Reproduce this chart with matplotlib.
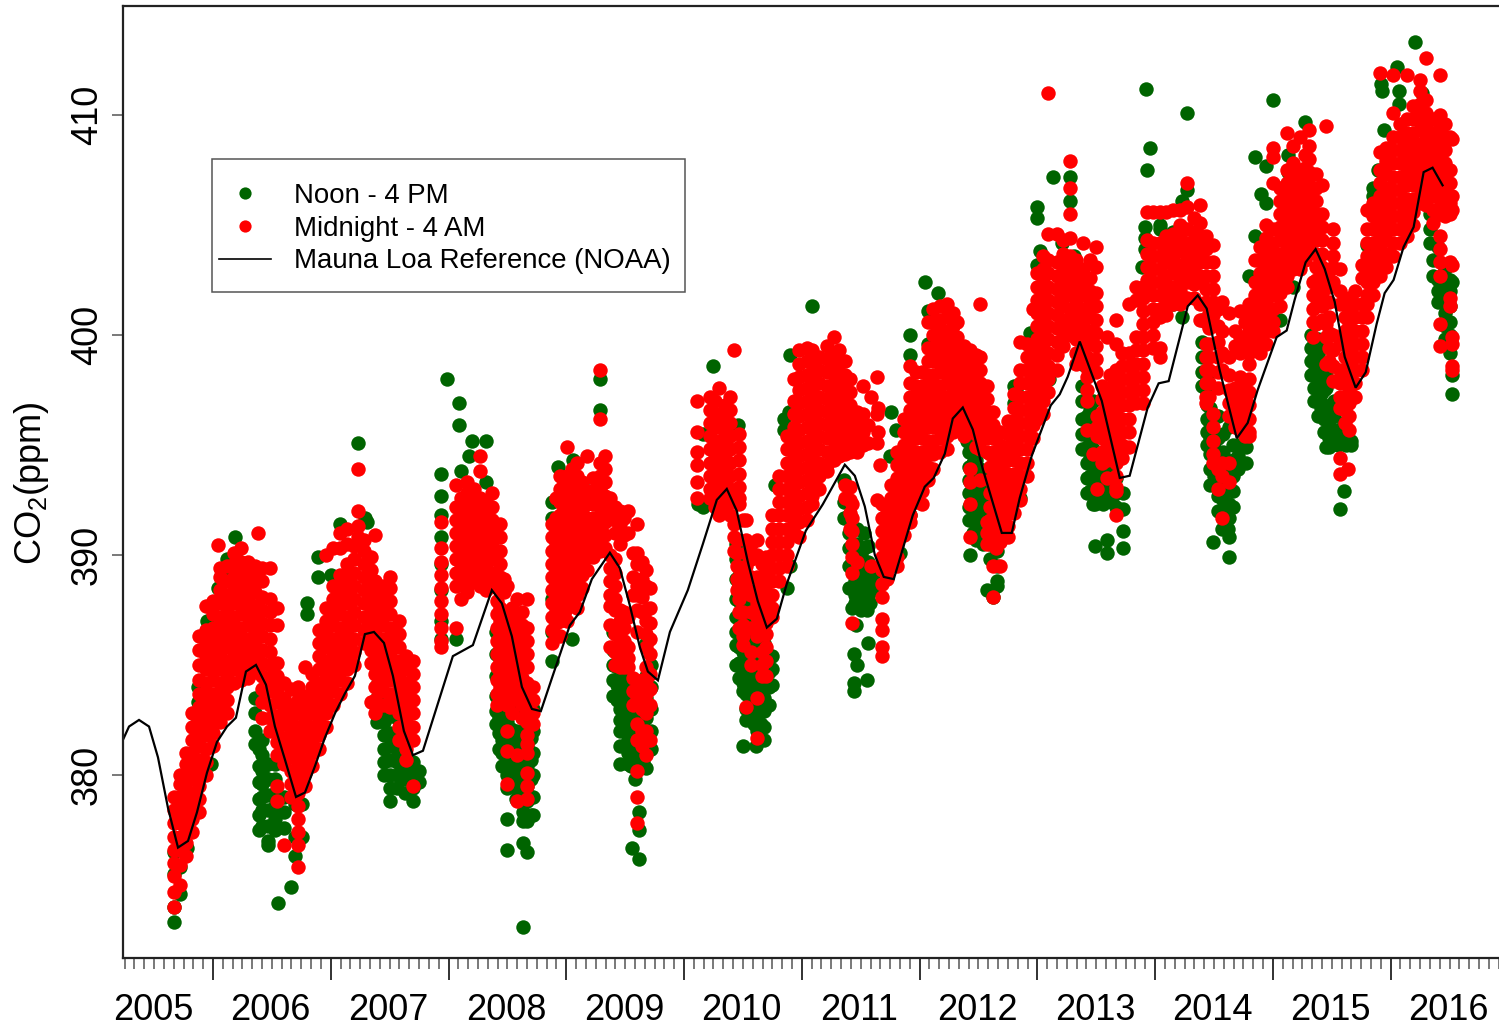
import matplotlib
matplotlib.use('Agg')
import matplotlib.pyplot as plt
from matplotlib.lines import Line2D
from matplotlib.patches import Rectangle

plt.rcParams['font.family'] = ['Liberation Sans', 'DejaVu Sans']
plt.rcParams['mathtext.default'] = 'regular'

# Mauna Loa reference
noaa_x = [2005.236, 2005.287, 2005.372, 2005.457, 2005.533, 2005.618, 2005.703, 2005.788, 2005.864, 2005.949,
          2006.034, 2006.119, 2006.195, 2006.28, 2006.365, 2006.45, 2006.526, 2006.611, 2006.705, 2006.781,
          2006.866, 2006.951, 2007.036, 2007.12, 2007.205, 2007.29, 2007.367, 2007.452, 2007.528, 2007.621,
          2007.698, 2007.783, 2008.037, 2008.207, 2008.368, 2008.453, 2008.538, 2008.623, 2008.708, 2008.784,
          2008.878, 2009.03, 2009.115, 2009.217, 2009.37, 2009.455, 2009.54, 2009.625, 2009.693, 2009.778,
          2009.88, 2010.032, 2010.16, 2010.278, 2010.363, 2010.448, 2010.541, 2010.626, 2010.703, 2010.788,
          2010.873, 2011.034, 2011.178, 2011.365, 2011.45, 2011.535, 2011.62, 2011.696, 2011.781, 2011.942,
          2012.044, 2012.12, 2012.214, 2012.282, 2012.367, 2012.452, 2012.537, 2012.698, 2012.783, 2012.851,
          2012.952, 2013.114, 2013.19, 2013.258, 2013.36, 2013.547, 2013.70, 2013.784, 2013.937, 2014.03,
          2014.115, 2014.277, 2014.362, 2014.438, 2014.548, 2014.693, 2014.786, 2014.871, 2015.032, 2015.117,
          2015.185, 2015.278, 2015.363, 2015.44, 2015.525, 2015.61, 2015.703, 2015.788, 2015.881, 2015.949,
          2016.025, 2016.11, 2016.195, 2016.28, 2016.356, 2016.441]
noaa_y = [381.6, 382.2, 382.5, 382.2, 380.8, 378.5, 376.7, 377.0, 378.3, 380.1,
          381.5, 382.2, 382.6, 384.7, 385.0, 384.1, 382.2, 380.7, 379.0, 379.2,
          380.4, 381.7, 382.8, 383.7, 384.5, 386.4, 386.5, 386.0, 384.5, 382.0,
          380.9, 381.1, 385.4, 385.9, 388.4, 387.8, 386.3, 384.0, 383.0, 382.9,
          384.4, 386.8, 387.4, 388.9, 390.1, 389.4, 387.7, 385.8, 384.7, 384.3,
          386.5, 388.4, 390.5, 392.5, 393.0, 392.0, 389.7, 387.9, 386.7, 387.1,
          388.7, 391.1, 392.3, 394.1, 393.6, 392.2, 390.0, 389.0, 388.9, 391.8,
          393.1, 393.5, 394.6, 396.2, 396.7, 395.7, 393.9, 391.0, 391.0, 392.6,
          394.5, 396.8, 397.3, 398.1, 399.7, 397.0, 393.5, 393.6, 396.7, 397.8,
          397.9, 401.3, 401.8, 401.2, 398.4, 395.3, 396.0, 397.5, 399.9, 400.2,
          401.6, 403.3, 403.9, 403.0, 401.5, 399.0, 397.6, 398.3, 400.5, 401.9,
          402.5, 404.0, 404.9, 407.4, 407.6, 406.8]

# Noon - 4 PM, one (date, readings) entry per column of dots
noon_2005_06 = [
    (2005.67, [373.3, 374.0, 375.5, 376.5]), (2005.72, [374.6, 375.8]), (2005.78, [376.7, 378.0]),
    (2005.87, [381.5, 382.5, 383.3, 384.0]), (2005.95, [385.0, 385.8, 386.4, 387.0]), (2005.98, [380.5]),
    (2006.04, [388.5]), (2006.12, [388.9, 389.8]), (2006.19, [390.8, 390.0, 389.0]),
    (2006.36, [383.5, 382.8, 382.0, 381.4]), (2006.42, [381.6, 380.9, 380.2, 379.6, 379.0, 378.4, 377.7]),
    (2006.47, [380.5, 379.8, 379.1, 378.4, 377.7, 377.0, 376.8]), (2006.53, [380.5, 379.8, 379.2, 378.6, 378.0, 377.5]),
    (2006.55, [374.2]), (2006.60, [379.0, 378.3, 377.6]), (2006.66, [374.9]), (2006.70, [378.7, 377.2, 376.3]),
    (2006.755, [378.7, 377.2]), (2006.39, [381.2, 380.4, 379.7, 378.9, 378.2, 377.5]),
]
noon_2007 = [
    (2006.80, [387.8, 387.3]), (2006.89, [389.9, 389.0]), (2007.00, [389.1]), (2007.08, [391.4]),
    (2007.23, [395.1]), (2007.29, [391.7]), (2007.31, [391.5]),
    (2007.39, [384.8, 384.1, 383.5, 382.9, 382.4]), (2007.45, [383.0, 382.4, 381.8, 381.2, 380.6, 380.0]),
    (2007.50, [382.7, 381.9, 381.3, 380.7, 380.0, 379.4, 378.8]), (2007.56, [382.6, 381.9, 381.2, 380.6, 380.0, 379.4]),
    (2007.63, [381.0, 380.4, 379.8, 379.2]), (2007.70, [380.6, 380.0, 379.4, 378.8]), (2007.75, [380.2, 379.7]),
]
noon_2008 = [
    (2007.94, [393.7, 392.7, 391.8, 390.8, 389.6, 388.4, 387.0, 386.2]), (2007.985, [398.0]),
    (2008.06, [386.2]), (2008.09, [396.9, 395.9]), (2008.11, [393.8]), (2008.17, [394.5]), (2008.20, [395.2]),
    (2008.32, [395.2, 393.3]), (2008.40, [386.5, 385.5, 384.5, 383.6, 382.9, 382.3]),
    (2008.45, [385.0, 384.0, 383.0, 382.3, 381.6, 381.0, 380.4]),
    (2008.50, [382.4, 381.8, 381.2, 380.6, 380.0, 379.4, 378.0, 376.6]),
    (2008.57, [383.0, 382.0, 381.3, 380.7, 380.1, 379.5, 378.9]),
    (2008.63, [383.0, 382.0, 381.5, 380.9, 380.3, 379.7, 379.0, 378.3, 377.9, 376.9, 373.1]),
    (2008.67, [382.5, 381.3, 380.4, 379.5, 378.8, 377.9, 376.5]), (2008.72, [383.0, 382.0, 381.0, 380.0, 379.0, 378.2]),
    (2008.43, [383.4, 382.6, 381.9, 381.2]), (2008.53, [382.1, 381.5, 380.9, 380.2, 379.5]),
    (2008.60, [381.8, 381.1, 380.5, 379.9, 379.2]), (2008.70, [381.7, 380.7, 379.8, 379.0, 378.2]),
]
noon_2009 = [
    (2008.88, [392.4, 391.7, 388.0, 386.5, 385.2]), (2008.93, [394.0]), (2009.01, [393.3]), (2009.05, [386.2]),
    (2009.06, [394.3]), (2009.15, [393.0, 392.8]), (2009.285, [398.0, 396.6]),
    (2009.40, [386.5, 385.7, 385.0, 384.3, 383.6]), (2009.46, [385.0, 384.3, 383.6, 383.0, 382.5, 382.0, 381.3, 380.5]),
    (2009.52, [384.5, 384.0, 383.4, 382.8, 382.2, 381.6, 381.0, 380.5]), (2009.56, [376.7]),
    (2009.58, [383.5, 382.8, 382.0, 381.2, 380.4, 379.8]), (2009.62, [382.7, 381.5, 380.7, 378.3, 377.5, 376.2]),
    (2009.68, [386.0, 384.5, 383.5, 382.6, 381.7, 381.0, 380.3]),
    (2009.43, [385.6, 384.9, 384.1, 383.4]), (2009.49, [384.3, 383.5, 382.8, 382.1, 381.3]),
    (2009.55, [384.0, 383.3, 382.5, 381.8, 381.0, 380.4]), (2009.65, [384.0, 383.1, 382.2, 381.3, 380.6]),
    (2009.72, [385.0, 384.0, 383.0, 382.0, 381.2]),
]
noon_2010 = [
    (2010.12, [392.3]), (2010.16, [395.5, 392.2]), (2010.25, [398.6]), (2010.46, [395.9]),
    (2010.44, [390.5, 389.8, 388.9, 388.0, 387.2, 386.5, 385.9, 385.0]),
    (2010.50, [389.0, 388.3, 387.6, 387.0, 386.4, 385.6, 384.9, 384.2, 383.8, 381.3]),
    (2010.56, [388.0, 387.4, 386.8, 386.2, 385.4, 384.7, 384.1, 383.5, 382.9]),
    (2010.61, [381.3]), (2010.62, [385.0, 384.4, 383.8, 383.2, 382.6, 382.0]),
    (2010.68, [386.0, 385.0, 384.2, 383.5, 382.9, 382.2, 381.6]), (2010.72, [384.7, 384.0, 383.2]),
    (2010.47, [389.4, 388.6, 387.9, 387.2, 386.5, 385.8, 385.1, 384.4]),
    (2010.53, [387.2, 386.5, 385.8, 385.1, 384.4, 383.7, 383.0, 382.5]),
    (2010.59, [386.2, 385.5, 384.9, 384.2, 383.5, 382.8, 382.3]),
    (2010.65, [385.8, 385.1, 384.4, 383.7, 383.0, 382.3]),
    (2010.75, [385.4, 384.8, 384.1]),
    (2010.77, [393.2]), (2010.85, [396.2, 395.7]), (2010.87, [388.5]), (2010.89, [396.5]),
    (2010.90, [399.1, 389.5]), (2011.085, [401.3]),
]
noon_2011 = [
    (2011.36, [393.4, 392.4, 391.7]), (2011.40, [391.8, 391.0, 390.3, 389.5, 388.5]),
    (2011.43, [387.6, 390.4, 389.7]), (2011.44, [385.5, 384.2, 383.8]), (2011.45, [388.8, 388.2, 387.8]),
    (2011.46, [386.8]), (2011.47, [385.0, 391.2, 390.5, 389.8, 389.1]), (2011.50, [390.0, 389.2, 388.5, 388.0, 387.5]),
    (2011.53, [391.0, 390.3, 389.6, 388.9, 388.2]),
    (2011.55, [388.8, 388.1, 387.5, 384.3]), (2011.56, [386.0, 390.4, 389.7, 389.0]),
    (2011.58, [388.3, 387.8]), (2011.61, [389.2, 388.6]),
    (2011.75, [394.5]), (2011.76, [396.5]), (2011.80, [395.7]), (2011.83, [390.1]),
    (2011.92, [400.0, 399.1, 391.8]), (2012.05, [402.4]), (2012.07, [399.6, 401.1]), (2012.16, [401.9]),
]
noon_2012 = [
    (2012.40, [396.0, 395.2]), (2012.42, [394.7, 394.0, 393.4, 392.8, 392.2, 391.6]), (2012.43, [390.0]),
    (2012.45, [394.2, 393.5, 392.9, 392.2, 391.6, 391.0]),
    (2012.48, [394.3, 393.7, 393.0, 392.4, 391.8, 391.2, 390.7]), (2012.51, [393.9, 393.3, 392.6, 392.0, 391.4, 390.8]),
    (2012.54, [393.5, 392.9, 392.3, 391.7, 391.1, 390.5]),
    (2012.57, [388.4]), (2012.60, [392.3, 391.7, 391.1, 390.5, 389.8]), (2012.62, [388.1]),
    (2012.66, [392.0, 391.0, 390.2, 389.5, 388.8, 388.6]), (2012.80, [397.7, 396.9]), (2012.85, [392.6]),
    (2012.82, [397.5]), (2012.94, [400.1]), (2013.03, [400.1]), (2013.00, [403.2, 405.8, 405.3]), (2013.02, [403.8]),
    (2013.10, [398.0]), (2013.13, [407.2]), (2013.21, [404.2]), (2013.28, [407.2, 406.1]), (2013.31, [403.6]),
]
noon_2013 = [
    (2013.38, [398.7, 397.7, 397.0, 396.2, 395.5, 394.8]), (2013.42, [396.3, 395.6, 394.9, 394.2, 393.5, 392.8]),
    (2013.45, [396.6, 395.9, 395.1, 394.4, 393.6, 392.9]),
    (2013.47, [397.0, 395.4, 394.8, 394.2, 393.5, 392.9, 392.3]), (2013.49, [392.3, 390.4]),
    (2013.52, [394.6, 393.8, 393.1, 392.4]), (2013.56, [392.3, 393.6, 393.0]), (2013.59, [393.9, 393.2, 392.5, 390.7, 390.1]),
    (2013.63, [393.6, 393.0, 392.4]),
    (2013.67, [393.5, 392.8, 392.2]), (2013.73, [392.8, 392.1, 391.1, 390.3]),
    (2013.89, [403.1]), (2013.91, [404.9, 404.4, 403.9]), (2013.92, [411.2]), (2013.93, [407.5]), (2013.96, [408.5]),
    (2014.04, [405.0, 404.8]), (2014.15, [404.7, 401.4]), (2014.23, [406.1, 400.8]), (2014.27, [406.6, 410.1]),
]
noon_2014 = [
    (2014.40, [400.7, 399.7, 399.0, 398.3, 397.7]), (2014.44, [398.0, 397.4, 396.8, 396.2, 395.6, 395.0]),
    (2014.47, [396.7, 396.0, 395.3, 394.6, 393.9, 393.2]),
    (2014.49, [390.6]), (2014.50, [395.5, 394.9, 394.3, 393.6]), (2014.53, [396.3, 395.3, 393.4, 392.7, 392.0]),
    (2014.57, [391.2]), (2014.58, [395.5, 394.7, 394.0, 393.2, 392.5, 391.8]),
    (2014.62, [391.2]), (2014.63, [395.8, 393.6, 393.0, 392.3, 391.7, 390.8, 389.9]),
    (2014.66, [395.0, 394.3, 393.6, 392.9, 392.2]),
    (2014.70, [396.0, 395.0, 394.5, 393.9]), (2014.77, [399.3, 395.5, 394.9, 394.2]), (2014.80, [402.7]), (2014.85, [404.5, 408.1]),
    (2014.90, [406.4]), (2014.94, [406.0, 407.7]), (2014.998, [410.7]), (2015.06, [400.7]),
    (2015.13, [407.4, 408.2]), (2015.17, [402.2]), (2015.27, [409.7]),
]
noon_2015 = [
    (2015.32, [400.0, 399.4, 398.8, 398.2]), (2015.38, [399.8, 399.1, 398.4, 397.7, 396.3]),
    (2015.35, [399.6, 399.0, 398.3, 397.6, 397.0]), (2015.41, [399.4, 398.7, 398.0, 397.3, 396.7]),
    (2015.43, [397.5, 396.8, 396.2, 395.6]), (2015.45, [394.9, 398.3, 397.6]), (2015.48, [396.5, 395.9, 395.3, 394.9]),
    (2015.52, [397.0, 396.3, 395.7, 395.1]),
    (2015.55, [395.7, 395.0, 395.1]), (2015.57, [392.1]), (2015.60, [392.9, 396.0]), (2015.62, [395.5, 395.0]),
    (2015.66, [395.2, 395.0]),
    (2015.80, [404.1]), (2015.85, [406.7, 406.3]), (2015.89, [407.5]), (2015.93, [411.1]), (2015.92, [411.4]),
    (2015.945, [409.3]), (2016.05, [412.2]), (2016.07, [411.1, 410.5]), (2016.21, [413.3]), (2016.27, [411.0]),
    (2016.33, [405.5, 404.8, 404.2]), (2016.36, [403.4, 402.7]), (2016.40, [404.0, 402.5, 402.0, 401.5]),
    (2016.46, [403.0, 402.4, 401.7, 401.0, 400.4, 399.8]), (2016.50, [402.5, 402.0, 401.3, 400.6, 400.0, 399.2]),
    (2016.52, [402.4, 398.2, 397.3]),
]

# Midnight - 4 AM, same layout
midnight_2005_06 = [
    (2005.67, [374.0, 374.7, 375.4, 376.0, 376.6, 377.2, 377.8, 378.4, 379.0]),
    (2005.72, [375.0, 375.9, 376.6, 377.2, 377.8, 378.4, 379.0, 379.6, 380.0]),
    (2005.77, [376.3, 376.9, 377.5, 378.1, 378.7, 379.3, 379.9, 380.5, 381.0]),
    (2005.82, [377.4, 378.0, 378.6, 379.2, 379.8, 380.4, 381.0, 381.6, 382.2, 382.8]),
    (2005.88, [378.3, 378.9, 379.5, 380.1, 380.7, 381.3, 381.9, 382.5, 383.1, 383.7, 384.3, 385.0, 385.7, 386.3]),
    (2005.94, [380.0, 380.6, 381.2, 381.8, 382.4, 383.0, 383.6, 384.2, 384.8, 385.4, 386.0, 386.6, 387.7]),
    (2006.00, [381.3, 381.9, 382.5, 383.1, 383.7, 384.3, 384.9, 385.5, 386.1, 386.7, 387.3, 387.9]),
    (2006.04, [390.45]),
    (2006.06, [382.4, 383.0, 383.6, 384.2, 384.8, 385.4, 386.0, 386.6, 387.2, 387.8, 388.4, 389.0, 389.4]),
    (2006.12, [382.8, 383.4, 384.0, 384.6, 385.2, 385.8, 386.4, 387.0, 387.6, 388.2, 388.8, 389.5]),
    (2006.18, [384.2, 384.8, 385.4, 386.0, 386.6, 387.2, 387.8, 388.4, 389.0, 389.6, 390.1]),
    (2006.24, [384.3, 384.9, 385.5, 386.1, 386.7, 387.3, 387.9, 388.5, 389.1, 389.7, 390.3]),
    (2006.30, [384.4, 385.0, 385.6, 386.2, 386.8, 387.4, 388.0, 388.6, 389.2, 389.7]),
    (2006.36, [384.7, 385.3, 385.9, 386.5, 387.1, 387.7, 388.3, 388.9, 389.5]),
    (2006.38, [391.0]),
    (2006.42, [382.6, 383.3, 383.9, 384.5, 385.1, 385.7, 386.3, 386.9, 387.5, 388.1, 388.8, 389.4]),
    (2006.48, [382.0, 382.6, 383.2, 383.8, 384.4, 385.0, 385.6, 386.2, 386.8, 387.4, 388.0, 389.4]),
    (2006.54, [380.9, 381.5, 382.1, 382.7, 383.3, 383.9, 384.5, 385.1, 387.6, 386.8, 379.5, 378.8]),
    (2006.60, [380.5, 381.1, 381.7, 382.3, 382.9, 383.5, 384.2, 376.8]),
    (2006.66, [379.0, 379.6, 380.2, 380.8, 381.4, 382.0, 382.6, 383.2, 383.9]),
    (2006.72, [377.4, 378.0, 378.6, 379.2, 379.8, 380.4, 381.0, 381.6, 382.2, 382.8, 383.4, 384.0, 375.8, 376.8]),
    (2006.78, [379.5, 380.1, 380.7, 381.3, 381.9, 382.5, 383.1, 383.6, 384.9]),
]
midnight_2007 = [
    (2006.84, [380.4, 381.0, 381.6, 382.2, 382.8, 383.4, 384.0, 384.6]),
    (2006.90, [381.2, 381.8, 382.4, 383.0, 383.6, 384.2, 384.8, 385.4, 386.0, 386.6]),
    (2006.96, [382.2, 382.8, 383.4, 384.0, 384.6, 385.2, 385.8, 386.4, 387.0, 387.6, 390.0]),
    (2007.02, [383.2, 383.8, 384.4, 385.0, 385.6, 386.2, 386.8, 387.4, 388.0, 388.6, 390.3]),
    (2007.08, [383.7, 384.3, 384.9, 385.5, 386.1, 386.7, 387.3, 387.9, 388.5, 389.1, 390.3, 391.0]),
    (2007.14, [384.2, 384.8, 385.4, 386.0, 386.6, 387.2, 387.8, 388.4, 389.0, 389.6, 390.5, 391.2]),
    (2007.20, [385.0, 385.6, 386.2, 386.8, 387.4, 388.0, 388.6, 389.2, 389.8, 390.4]),
    (2007.23, [393.9, 392.0, 391.3, 390.8]),
    (2007.28, [386.0, 386.6, 387.2, 387.8, 388.4, 389.0, 389.6, 390.2, 390.7]),
    (2007.34, [383.3, 385.1, 385.7, 386.3, 386.9, 387.5, 388.1, 388.7, 389.3, 389.9]),
    (2007.38, [382.8, 383.4, 384.0, 384.6, 385.2, 385.8, 386.4, 387.0, 387.6, 388.2, 388.8, 390.9]),
    (2007.44, [383.2, 383.8, 384.4, 385.0, 385.6, 386.2, 386.8, 387.4, 388.0, 388.6]),
    (2007.50, [383.1, 383.7, 384.3, 384.9, 385.5, 386.1, 386.7, 387.3, 387.9, 388.5, 389.0]),
    (2007.58, [381.6, 382.2, 382.8, 383.4, 384.0, 384.6, 385.2, 385.8, 386.4, 387.0]),
    (2007.64, [381.2, 381.8, 382.4, 383.0, 383.6, 384.2, 384.8, 385.4, 380.7]),
    (2007.70, [381.6, 382.2, 382.8, 383.4, 384.0, 384.6, 385.2, 379.5]),
]
midnight_2008 = [
    (2007.94, [391.5, 390.3, 389.7, 389.1, 388.5, 387.9, 387.3, 386.7, 386.1, 385.8]),
    (2008.06, [393.2, 392.2, 391.6, 391.0, 390.4, 389.8, 389.2, 388.6, 386.7]),
    (2008.11, [392.6, 392.0, 391.4, 390.8, 390.2, 389.6, 389.0, 388.0]),
    (2008.16, [393.3, 392.8, 392.2, 391.6, 391.0, 390.4, 389.8, 389.2, 388.6, 388.3]),
    (2008.22, [393.0, 392.4, 391.8, 391.2, 390.6, 390.0, 389.4, 388.8]),
    (2008.27, [394.5, 393.8, 392.6, 392.0, 391.4, 390.8, 390.2, 389.6, 389.0, 388.6]),
    (2008.32, [392.4, 391.8, 391.2, 390.6, 390.0, 389.4, 388.8, 388.4]),
    (2008.37, [392.8, 392.2, 391.6, 391.0, 390.4, 389.8, 389.2, 388.6]),
    (2008.41, [387.9, 387.3, 386.7, 386.1, 385.5, 384.9, 384.3, 383.7, 383.2]),
    (2008.44, [391.4, 390.8, 390.2, 389.6, 389.0, 388.4, 387.6, 387.0, 386.4, 385.8, 385.2, 384.6, 384.0]),
    (2008.47, [388.9, 388.3, 387.4, 386.6, 386.0, 385.4, 384.8, 384.2, 383.6]),
    (2008.50, [388.6, 386.8, 386.2, 385.6, 385.0, 384.4, 383.8, 383.2, 382.0, 381.1, 379.6]),
    (2008.54, [387.6, 387.0, 386.4, 385.8, 385.2, 384.6, 384.0, 383.4, 382.8]),
    (2008.58, [388.0, 387.2, 386.6, 386.0, 385.4, 384.8, 384.2, 383.5, 380.9, 378.8]),
    (2008.62, [387.4, 386.8, 386.2, 385.6, 385.0, 384.4, 383.8, 383.2, 382.6]),
    (2008.67, [388.0, 386.7, 386.1, 385.5, 384.9, 384.2, 383.6, 383.0, 382.4, 381.8, 381.4, 381.0, 380.1, 379.5, 378.9]),
    (2008.72, [384.0, 383.4, 382.8, 382.3]),
]
midnight_2009 = [
    (2008.88, [391.4, 390.8, 390.2, 389.6, 389.0, 388.4, 387.8, 387.2, 386.6, 386.0]),
    (2008.915, [392.6, 391.7, 391.1, 390.5, 389.9, 389.3, 388.7, 388.1, 387.5, 386.9]),
    (2008.95, [393.6, 393.0, 392.4, 391.8, 391.2, 390.6, 390.0, 389.4, 388.8, 388.2, 387.6, 387.0, 386.3]),
    (2008.98, [393.3, 392.7, 392.1, 391.5, 390.9, 390.3, 389.7, 389.1, 388.5, 387.9, 387.3]),
    (2009.01, [394.9, 393.6, 393.0, 392.4, 391.8, 391.2, 390.6, 390.0, 389.4, 388.8, 388.2, 387.6, 387.0]),
    (2009.05, [393.9, 393.3, 392.7, 392.1, 391.5, 390.9, 390.3, 389.7, 389.1, 388.5, 387.9]),
    (2009.09, [394.2, 393.6, 393.0, 392.4, 391.8, 391.2, 390.6, 390.0, 389.4, 388.8, 388.2, 387.6]),
    (2009.13, [393.3, 392.7, 392.1, 391.5, 390.9, 390.3, 389.7, 389.1, 388.5]),
    (2009.175, [394.5, 392.9, 392.3, 391.7, 391.1, 390.5, 389.9, 389.3]),
    (2009.23, [393.5, 392.9, 392.3, 391.7, 391.1, 390.5, 389.9]),
    (2009.285, [398.4, 396.2, 394.2, 393.6, 393.0, 392.4, 391.8, 391.2, 390.6, 390.2]),
    (2009.33, [394.5, 393.9, 393.3, 392.7, 392.1, 391.5, 390.9, 390.3]),
    (2009.37, [392.6, 392.0, 390.0, 389.4, 388.8, 388.2, 387.7, 386.8, 385.8]),
    (2009.41, [392.2, 391.6, 391.0, 389.8, 389.2, 388.6, 388.0, 387.5, 386.4, 385.6, 385.0]),
    (2009.455, [392.0, 391.4, 390.5, 387.5, 387.0, 386.5, 386.0, 385.4, 384.9]),
    (2009.49, [391.7, 390.9, 387.4, 386.7, 386.1, 385.5, 384.9]),
    (2009.52, [392.0, 391.0, 387.2, 385.8, 385.3, 384.9]),
    (2009.57, [390.1, 389.0, 388.2, 384.4, 383.8, 383.2]),
    (2009.60, [391.4, 390.1, 389.6, 388.6, 388.2, 387.5, 386.5, 384.0, 383.5, 382.3, 381.6, 380.2, 379.0, 377.8]),
    (2009.64, [389.7, 388.9, 388.1, 387.4, 384.3, 383.6, 383.0, 382.0, 381.3]),
    (2009.68, [389.3, 388.6, 387.5, 387.0, 386.4, 385.8, 384.9, 384.3, 383.7, 383.1, 382.8, 382.0, 380.9]),
    (2009.71, [388.5, 387.6, 386.9, 386.2, 385.5, 384.6, 383.9, 383.2, 381.6]),
]
midnight_2010 = [
    (2010.11, [397.0, 395.6, 394.7, 394.1, 393.3, 392.6]),
    (2010.22, [397.2, 396.6, 396.0, 395.4, 394.8, 394.2, 393.6, 393.0, 392.6]),
    (2010.26, [397.0, 396.4, 395.8, 395.2, 394.6, 394.0, 393.4, 392.8, 392.2]),
    (2010.30, [397.6, 396.4, 395.8, 395.2, 394.6, 394.0, 393.4, 392.8, 392.2, 391.8]),
    (2010.35, [396.8, 396.2, 395.6, 395.0, 394.4, 393.8, 393.2, 392.6, 392.0]),
    (2010.39, [397.2, 396.6, 396.0, 395.4, 394.8, 394.2, 393.6, 393.0, 392.4, 391.8]),
    (2010.42, [399.3, 391.4, 390.8, 390.2]),
    (2010.47, [395.5, 394.9, 394.3, 393.7, 393.1, 392.6, 392.3, 389.4, 388.7, 388.0, 387.4, 386.7]),
    (2010.45, [390.7, 390.1, 389.5, 388.9, 388.4]),
    (2010.50, [391.6, 387.4, 386.8, 386.3, 385.9]),
    (2010.53, [391.6, 390.7, 390.1, 389.5, 388.9, 388.5, 383.1]),
    (2010.57, [390.5, 389.8, 389.0, 388.2, 387.4, 386.7, 385.6, 385.0]),
    (2010.62, [390.7, 390.0, 389.0, 388.4, 387.8, 387.2, 386.6, 386.3, 383.5, 381.7]),
    (2010.66, [389.6, 389.0, 388.4, 387.7, 387.0, 386.4, 385.6, 385.0, 384.5]),
    (2010.70, [389.9, 389.3, 388.7, 388.1, 387.5, 386.9, 386.4, 385.8, 385.2, 384.5]),
    (2010.75, [391.8, 391.2, 390.6, 390.0, 389.4, 388.8, 388.2, 387.6, 387.2]),
    (2010.81, [393.6, 393.0, 392.4, 391.8, 391.2, 390.6, 390.0, 389.4, 388.8]),
    (2010.87, [395.4, 394.8, 394.2, 393.6, 393.0, 392.4, 391.8, 391.2, 390.6, 390.0, 389.5]),
    (2010.93, [398.0, 397.0, 396.4, 395.8, 395.2, 394.6, 394.0, 393.4, 392.8, 392.2, 391.6, 391.0]),
    (2010.98, [399.3, 398.7, 398.1, 397.5, 396.9, 396.3, 395.7, 395.1, 394.5, 393.9, 393.3, 392.7, 392.1, 391.5, 390.8]),
    (2011.04, [399.4, 398.8, 398.2, 397.6, 397.0, 396.4, 395.8, 395.2, 394.6, 394.0, 393.4, 392.8, 392.2, 391.6]),
    (2011.09, [399.3, 398.7, 398.1, 397.5, 396.9, 396.3, 395.7, 395.1, 394.5, 393.9, 393.3, 392.7, 392.3]),
    (2011.15, [399.0, 398.4, 397.8, 397.2, 396.6, 396.0, 395.4, 394.8, 394.2, 393.6, 393.0]),
    (2011.21, [399.5, 398.9, 398.3, 397.7, 397.1, 396.5, 395.9, 395.3, 394.7, 394.1, 393.8]),
    (2011.27, [399.9, 399.0, 398.4, 397.8, 397.2, 396.6, 396.0, 395.4, 394.8, 394.3]),
    (2011.32, [399.3, 398.7, 398.1, 397.5, 396.9, 396.3, 395.7, 395.1, 394.5]),
    (2011.37, [398.8, 398.2, 397.6, 397.0, 396.4, 395.8, 395.2, 394.6, 393.2, 392.6]),
    (2011.41, [398.0, 397.4, 396.8, 396.2, 395.6, 395.0, 394.7, 393.1, 392.5, 391.9, 391.2]),
    (2011.43, [392.3, 391.7, 391.1, 390.5, 389.9, 389.2, 386.9]),
    (2011.47, [396.5, 395.9, 395.3, 394.7, 389.7]),
    (2011.52, [397.7, 396.4, 395.6, 395.0]),
    (2011.56, [395.9, 395.1]),
    (2011.59, [397.2, 389.5]),
    (2011.64, [398.1, 396.4, 395.1, 392.5]),
    (2011.65, [396.7, 395.6]),
    (2011.66, [394.1]),
]
midnight_2012 = [
    (2011.68, [392.3, 391.7, 391.1, 390.5, 389.9, 389.3, 388.7, 388.1, 387.1, 386.6, 385.8, 385.4]),
    (2011.72, [392.1, 391.5, 390.9, 390.3, 389.7, 389.1, 388.9]),
    (2011.76, [393.2, 392.6, 392.0, 391.4, 390.8, 390.2, 389.6]),
    (2011.81, [394.7, 394.1, 393.5, 392.9, 392.3, 391.7, 391.1, 390.5, 389.9, 389.5]),
    (2011.87, [396.2, 395.6, 395.0, 394.4, 393.8, 393.2, 392.6, 392.0, 391.4, 390.9]),
    (2011.92, [398.6, 397.8, 397.2, 396.6, 396.0, 395.4, 394.8, 394.2, 393.6, 393.0, 392.4, 391.8, 391.5]),
    (2011.97, [398.3, 397.7, 397.1, 396.5, 395.9, 395.3, 394.7, 394.1, 393.5, 392.9, 392.4]),
    (2012.02, [398.3, 397.7, 397.1, 396.5, 395.9, 395.3, 394.7, 394.1, 393.5, 392.9, 392.3]),
    (2012.07, [400.6, 399.4, 398.8, 398.2, 397.6, 397.0, 396.4, 395.8, 395.2, 394.6, 394.0, 393.4]),
    (2012.11, [401.2, 400.6, 400.0, 399.4, 398.8, 398.2, 397.6, 397.0, 396.4, 395.8, 395.2, 394.6, 393.9]),
    (2012.17, [401.3, 400.7, 400.1, 399.5, 398.9, 398.3, 397.7, 397.1, 396.5, 395.9, 395.3, 394.7]),
    (2012.23, [401.4, 400.8, 400.2, 399.6, 399.0, 398.4, 397.8, 397.2, 396.6, 396.0, 395.4, 394.8]),
    (2012.28, [401.0, 400.4, 399.8, 399.2, 398.6, 398.0, 397.4, 396.8, 396.2, 395.6]),
    (2012.32, [400.6, 399.9, 399.3, 398.7, 398.1, 397.5, 396.9, 396.3, 395.7]),
    (2012.38, [399.5, 398.9, 398.3, 397.7, 397.1, 396.5, 395.9, 395.4]),
    (2012.43, [399.3, 398.7, 398.1, 397.5, 396.9, 396.3, 395.7, 393.9, 393.3, 392.3, 390.8]),
    (2012.48, [399.1, 398.5, 397.9, 397.3, 396.7, 396.1, 395.5, 394.9]),
    (2012.51, [401.4, 399.0, 398.4, 397.8, 397.2, 396.6, 396.0, 395.4, 394.8, 393.4]),
    (2012.57, [397.7, 397.1, 396.5, 395.9, 395.3, 394.7, 391.5, 391.0, 390.5]),
    (2012.60, [394.6, 394.0, 393.4, 392.8, 392.2, 391.6, 391.0]),
    (2012.62, [396.5, 395.9, 395.3, 394.7, 389.5, 388.1]),
    (2012.65, [394.4, 393.8, 393.2, 392.6, 392.0, 391.4, 390.8, 390.3]),
    (2012.68, [395.6, 395.0, 394.4, 393.7, 393.0, 392.4, 391.8, 391.2, 390.6, 389.5]),
    (2012.70, [394.6, 394.0, 393.4, 392.8, 392.2, 391.6, 391.0]),
    (2012.75, [396.1, 395.5, 394.9, 394.3, 393.7, 393.1, 392.5, 391.9, 391.3, 390.8]),
]
midnight_2013 = [
    (2012.80, [397.3, 396.7, 396.1, 395.5, 394.9, 394.3, 393.7, 393.1, 392.5, 391.9]),
    (2012.85, [399.7, 398.4, 397.8, 397.2, 396.6, 396.0, 395.4, 394.8, 394.2, 393.6, 393.0, 392.5]),
    (2012.91, [399.6, 399.0, 398.4, 397.8, 397.2, 396.6, 396.0, 395.4, 394.8, 394.2, 393.6]),
    (2012.96, [401.2, 399.5, 398.9, 398.3, 397.7, 397.1, 396.5, 395.9, 395.3]),
    (2013.00, [402.8, 402.2, 401.6, 401.0, 400.4, 399.8, 399.2, 398.6, 398.0, 397.4, 396.8, 396.2]),
    (2013.05, [403.6, 403.0, 402.4, 401.8, 401.2, 400.6, 400.0, 399.4, 398.8, 398.2, 397.6, 397.0, 396.4]),
    (2013.09, [411.0, 404.6, 403.4, 402.8, 402.2, 401.6, 401.0, 400.4, 399.8, 399.2, 398.6, 398.0, 397.4]),
    (2013.165, [404.6, 403.3, 402.7, 402.1, 401.5, 400.9, 400.3, 399.7, 399.1, 398.4]),
    (2013.22, [404.3, 403.7, 403.1, 402.5, 401.9, 401.3, 400.7, 400.1, 399.5]),
    (2013.275, [407.9, 406.7, 405.5, 404.4, 403.6, 403.0, 402.4, 401.8, 401.2, 400.6, 400.0]),
    (2013.33, [403.4, 402.8, 402.2, 401.6, 401.0, 400.4, 399.8, 399.2, 398.7]),
    (2013.385, [404.2, 403.0, 402.4, 401.8, 401.2, 400.6, 400.0, 399.4]),
    (2013.42, [399.0, 398.5, 398.1, 397.5, 397.0, 395.7]),
    (2013.45, [403.4, 402.6, 402.0, 401.4, 400.8, 400.2, 399.6, 398.8]),
    (2013.47, [394.6]),
    (2013.50, [404.0, 403.1, 401.9, 401.3, 400.7, 400.1, 399.5, 398.9, 398.3]),
    (2013.51, [396.3, 395.8, 395.4, 393.0]),
    (2013.55, [397.7, 397.1, 396.5, 395.9, 395.3, 394.7, 394.2]),
    (2013.59, [399.9, 397.4, 396.8, 396.2, 395.6, 394.9, 394.3, 393.5]),
    (2013.62, [398.2, 397.6, 397.0, 396.4, 395.8, 395.2, 394.6]),
    (2013.67, [400.7, 399.6, 398.4, 397.8, 397.2, 396.6, 396.0, 395.4, 394.8, 394.2, 393.6, 393.1, 392.9, 391.8]),
    (2013.72, [399.2, 398.6, 398.0, 397.4, 396.8, 396.2, 395.6, 395.0, 394.4]),
    (2013.78, [401.4, 399.2, 398.6, 398.0, 397.4, 396.8, 396.2, 395.6, 394.9]),
    (2013.84, [402.2, 401.6, 399.9, 399.3, 398.7, 398.1, 397.5, 396.9]),
    (2013.90, [402.2, 401.7, 401.1, 400.5, 399.9, 399.3, 398.7, 398.1, 397.5, 396.9]),
]
midnight_2014 = [
    (2013.93, [405.6, 404.3, 403.7, 403.1, 402.5, 402.2]),
    (2013.98, [405.6, 404.2, 403.6, 403.0, 402.4, 401.8, 401.2, 400.6, 400.0, 399.4]),
    (2014.04, [405.6, 404.2, 403.6, 403.0, 402.4, 401.8, 401.2, 400.8, 399.4, 399.0]),
    (2014.09, [405.6, 404.5, 403.9, 403.3, 402.7, 402.1, 401.5, 400.9]),
    (2014.15, [405.7, 404.6, 404.0, 403.4, 402.8, 402.2, 401.6, 401.4]),
    (2014.21, [405.7, 405.0, 404.4, 403.8, 403.2, 402.6, 402.0, 401.4]),
    (2014.27, [406.9, 405.8, 404.8, 404.2, 403.6, 403.0, 402.4, 401.7]),
    (2014.33, [405.3, 404.7, 404.1, 403.5, 402.9, 402.3, 401.7]),
    (2014.38, [405.9, 405.1, 404.5, 403.9, 403.3, 402.7, 402.4, 401.4, 400.7]),
    (2014.43, [404.5, 403.9, 403.3, 402.7, 402.1, 401.5, 400.6, 399.6, 399.0, 398.4, 397.8, 397.2, 396.9]),
    (2014.46, [401.0, 400.3, 399.6, 399.0, 398.4, 397.8, 397.2]),
    (2014.49, [404.1, 403.3, 402.7, 402.1, 401.5, 400.9, 400.5, 396.4, 395.8, 395.2, 394.6, 394.2]),
    (2014.53, [400.4, 401.2, 399.7, 399.0, 398.3, 397.6, 393.9, 393.0]),
    (2014.57, [401.5, 400.2, 399.2, 398.4, 394.2, 393.6, 391.7]),
    (2014.63, [401.0, 399.0, 398.2, 397.5, 396.9, 396.3, 394.2, 393.3]),
    (2014.68, [400.2, 399.5, 397.6, 397.0, 396.4, 395.8]),
    (2014.72, [401.1, 399.9, 399.2, 398.1, 397.5, 396.9, 396.3, 395.7]),
    (2014.76, [400.6, 399.6, 397.9, 397.2, 396.6, 396.0, 395.4]),
    (2014.80, [401.4, 400.8, 400.2, 399.6, 399.2, 398.7, 398.0, 397.4, 396.8, 396.2, 395.6, 395.4]),
]
midnight_2015 = [
    (2014.85, [402.4, 401.8, 401.2, 400.6, 400.0, 399.4, 403.4]),
    (2014.89, [404.0, 403.4, 402.8, 402.2, 401.6, 401.0, 400.4, 399.8, 399.2]),
    (2014.94, [405.0, 404.4, 403.8, 403.2, 402.6, 402.0, 401.4, 400.8, 400.2, 399.6]),
    (2015.00, [408.5, 408.1, 406.9, 404.8, 404.2, 403.6, 403.0, 402.4, 401.8, 401.2, 400.6, 400.2]),
    (2015.06, [406.7, 406.1, 405.5, 404.9, 404.3, 403.7, 403.1, 402.5, 401.9, 401.3]),
    (2015.12, [409.2, 407.5, 406.9, 406.3, 405.7, 405.1, 404.5, 403.9, 403.3, 402.7, 402.2]),
    (2015.17, [408.6, 407.8, 407.2, 406.6, 406.0, 405.4, 404.8, 404.2, 403.6, 403.0]),
    (2015.23, [409.0, 407.5, 406.9, 406.3, 405.7, 405.1, 404.5, 403.9, 403.3, 403.0]),
    (2015.27, [408.2, 407.6, 407.0, 406.4, 405.8, 405.2, 404.6, 404.0, 403.4]),
    (2015.31, [409.3, 408.6, 408.0, 407.4, 406.8, 406.2, 405.6, 405.0, 404.4, 403.8]),
    (2015.34, [402.4, 401.8, 401.2, 400.6, 399.9]),
    (2015.37, [407.3, 406.7, 406.1, 405.5, 404.9, 404.3, 403.7, 403.1, 402.5, 401.9, 401.3, 400.5]),
    (2015.42, [406.8, 405.5, 404.9, 404.3, 403.7, 403.1, 402.5, 401.9, 401.3, 400.7]),
    (2015.45, [409.5, 399.9, 398.7, 400.5]),
    (2015.48, [402.9, 402.2, 401.5, 400.8, 400.1, 399.4, 398.8]),
    (2015.51, [404.8, 404.2, 403.6, 403.1, 402.4, 400.0, 399.3, 398.6, 397.9]),
    (2015.57, [403.0, 402.0, 401.4, 399.6, 398.4, 397.8, 397.2, 396.7, 394.4, 393.7]),
    (2015.61, [400.8, 400.2, 399.6, 399.0, 398.4, 397.8, 397.2, 396.6, 396.0]),
    (2015.64, [393.9]),
    (2015.65, [401.7, 401.1, 400.5, 399.9, 399.3, 398.7, 398.1, 397.5, 396.9, 396.3, 395.7]),
    (2015.70, [402.0, 401.4, 400.8, 400.2, 399.6, 399.0, 398.4, 397.8, 397.2]),
    (2015.76, [403.2, 402.6, 401.4, 400.8, 400.2, 399.6, 399.0, 398.4]),
]
midnight_2016 = [
    (2015.80, [405.7, 404.8, 404.2, 403.6, 403.0, 402.4, 401.8, 401.4, 400.8]),
    (2015.85, [406.0, 405.4, 404.8, 404.2, 403.6, 403.0, 402.4, 401.8]),
    (2015.91, [411.9, 408.3, 407.5, 406.9, 406.3, 405.7, 405.1, 404.5, 403.9, 403.3, 402.7]),
    (2015.96, [408.5, 407.9, 407.3, 406.7, 406.1, 405.5, 404.9, 404.3, 403.7, 403.1]),
    (2016.02, [411.8, 410.1, 409.0, 408.4, 407.8, 407.2, 406.6, 406.0, 405.4, 404.8, 404.2, 403.6]),
    (2016.08, [409.6, 409.0, 408.4, 407.8, 407.2, 406.6, 406.0, 405.4, 404.8, 404.2]),
    (2016.14, [411.8, 409.8, 409.2, 408.6, 408.0, 407.4, 406.8, 406.2, 405.6, 405.0, 404.5]),
    (2016.19, [410.4, 409.8, 409.2, 408.6, 408.0, 407.4, 406.8, 406.2, 405.6, 405.0]),
    (2016.25, [411.6, 411.1, 410.5, 409.9, 409.3, 408.7, 408.1, 407.5, 406.9, 406.3, 406.0]),
    (2016.30, [412.6, 410.7, 410.1, 409.5, 408.9, 408.3, 407.7, 407.1, 406.5, 405.9]),
    (2016.36, [409.8, 409.2, 408.6, 408.0, 407.5, 406.9, 406.3, 405.7, 405.1]),
    (2016.42, [411.8, 410.0, 409.4, 408.8, 408.2, 407.6, 407.0, 406.4, 405.8, 405.5, 404.5, 403.9, 403.3, 402.7, 400.5, 399.5]),
    (2016.46, [409.6, 409.0, 408.4, 407.8, 407.2, 406.6, 406.0, 405.4]),
    (2016.50, [409.0, 407.5, 406.9, 406.0, 405.5, 403.3, 401.7, 401.3]),
    (2016.52, [408.9, 406.3, 405.7, 403.2, 399.9, 399.6, 398.6, 398.4]),
]

year_labels = ['2005', '2006', '2007', '2008', '2009', '2010', '2011', '2012', '2013', '2014', '2015', '2016']
ppm_ticks = [380, 390, 400, 410]


def flatten(*seasons):
    xs, ys = [], []
    for season in seasons:
        for date, readings in season:
            xs.extend([date] * len(readings))
            ys.extend(readings)
    return xs, ys


W, H = 1499, 1029
fig = plt.figure(figsize=(W / 100, H / 100), dpi=100)
ax = fig.add_axes([123 / W, (H - 958) / H, (W - 123) / W, 952 / H])

noon_x, noon_y = flatten(noon_2005_06, noon_2007, noon_2008, noon_2009, noon_2010, noon_2011, noon_2012,
                         noon_2013, noon_2014, noon_2015)
mid_x, mid_y = flatten(midnight_2005_06, midnight_2007, midnight_2008, midnight_2009, midnight_2010,
                       midnight_2012, midnight_2013, midnight_2014, midnight_2015, midnight_2016)

ax.plot(noon_x, noon_y, 'o', color='#006400', ms=10.4, mew=0, clip_on=True)
ax.plot(mid_x, mid_y, 'o', color='#ff0000', ms=10.4, mew=0)
ax.plot(noaa_x, noaa_y, '-', color='black', lw=1.6, solid_joinstyle='miter')

ax.set_xlim(2005.236, 2016.92)
ax.set_ylim(371.68, 414.95)

for side in ['top', 'left', 'bottom']:
    ax.spines[side].set_linewidth(1.6)
    ax.spines[side].set_color('#222222')
ax.spines['right'].set_visible(False)

years = [2006 + i for i in range(11)]
months = [2005 + m / 12 for m in range(3, 12 * 12) if m % 12 != 0 and 2005.236 <= 2005 + m / 12 <= 2016.92]
ax.set_xticks(years)
ax.set_xticks(months, minor=True)
ax.set_xticklabels([])
ax.tick_params(axis='x', which='major', length=16, width=1.3, color='#222222')
ax.tick_params(axis='x', which='minor', length=8, width=1.1, color='#555555')
for i, label in enumerate(year_labels):
    ax.text(2005.49 + i, -0.0555, label, transform=ax.get_xaxis_transform(), ha='center', va='center', fontsize=26)

ax.set_yticks(ppm_ticks)
ax.set_yticklabels(ppm_ticks, rotation=90, va='center', fontsize=26)
ax.tick_params(axis='y', length=8, width=1.1, color='#555555', pad=5)
fig.text(32 / W, 1 - 483 / H, r'CO$_2$(ppm)', rotation=90, ha='center', va='center', fontsize=26)

# legend box is larger than the entries, so the frame is drawn on its own
ax.add_patch(Rectangle((212 / (W - 123) - 123 / (W - 123), 1 - (292 - 6) / 952), 473 / (W - 123), 133 / 952,
                       transform=ax.transAxes, fc='white', ec='#555555', lw=1.1, zorder=5))
handles = [Line2D([], [], ls='none', marker='o', color='#006400', ms=8.8, mew=0),
           Line2D([], [], ls='none', marker='o', color='#ff0000', ms=8.8, mew=0),
           Line2D([], [], color='black', lw=1.2)]
leg = ax.legend(handles, ['Noon - 4 PM', 'Midnight - 4 AM', 'Mauna Loa Reference (NOAA)'],
                loc='upper left', bbox_to_anchor=((212 - 123) / (W - 123), 1 - (176 - 6) / 952),
                frameon=False, fontsize=19.9, handlelength=1.87, handletextpad=0.86, labelspacing=0.24,
                borderpad=0, borderaxespad=0.25)
leg.set_zorder(6)

fig.savefig('out.png', dpi=100)
